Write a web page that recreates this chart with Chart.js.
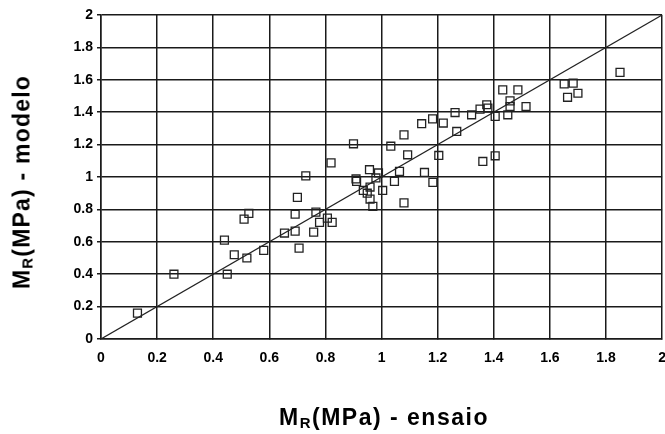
<!DOCTYPE html>
<html>
<head>
<meta charset="utf-8">
<script src="https://cdn.jsdelivr.net/npm/chart.js@4"></script>
<style>
    html, body { margin: 0; padding: 0; background: #fff; overflow: hidden; }
    #wrap { position: relative; width: 665px; height: 434px; overflow: hidden; }
    .axis-title {
        position: absolute;
        font-family: 'Liberation Sans', Arial, sans-serif;
        font-weight: bold;
        color: #000;
        white-space: nowrap;
    }
    .axis-title sub { font-size: 0.65em; vertical-align: -0.2em; line-height: 0; }
    #titleX { left: 384px; top: 404px; font-size: 23px; letter-spacing: 1.5px; transform: translateX(-50%); }
    #titleY { left: 22px; top: 182px; font-size: 23px; letter-spacing: 1.2px; transform: translate(-50%, -50%) rotate(-90deg); }
</style>
</head>
<body>
<div id="wrap">
    <canvas id="chartMR" width="669" height="434"></canvas>
    <div class="axis-title" id="titleX">M<sub>R</sub>(MPa) - ensaio</div>
    <div class="axis-title" id="titleY">M<sub>R</sub>(MPa) - modelo</div>
</div>
<script>
// valores (ensaio x modelo)
const xEnsaio = [0.13, 0.26, 0.44, 0.45, 0.475, 0.51, 0.52, 0.527, 0.58, 0.654, 0.692, 0.692, 0.70, 0.706, 0.73,
    0.758, 0.766, 0.779, 0.807, 0.82, 0.824, 0.90, 0.909, 0.911, 0.935, 0.949, 0.957, 0.959, 0.959, 0.969,
    0.98, 0.989, 1.004, 1.033, 1.046, 1.064, 1.08, 1.08, 1.093, 1.143, 1.153, 1.182, 1.183, 1.204, 1.22,
    1.262, 1.268, 1.321, 1.351, 1.361, 1.375, 1.379, 1.405, 1.405, 1.432, 1.45, 1.458, 1.458, 1.486, 1.515,
    1.651, 1.663, 1.683, 1.70, 1.85];
const yModelo = [0.16, 0.40, 0.61, 0.40, 0.52, 0.74, 0.50, 0.775, 0.547, 0.654, 0.666, 0.77, 0.874, 0.561, 1.007,
    0.66, 0.783, 0.72, 0.746, 1.087, 0.72, 1.205, 0.988, 0.973, 0.917, 0.90, 1.045, 0.938, 0.864, 0.819,
    0.994, 1.025, 0.917, 1.19, 0.973, 1.035, 0.84, 1.26, 1.137, 1.329, 1.028, 1.359, 0.967, 1.133, 1.333,
    1.398, 1.281, 1.384, 1.419, 1.096, 1.446, 1.425, 1.131, 1.374, 1.538, 1.384, 1.47, 1.435, 1.538, 1.435,
    1.575, 1.492, 1.579, 1.517, 1.646];

// linha 1:1
const linhaIgualdade = [0, 2];

const xTickLabels = ['0', '0.2', '0.4', '0.6', '0.8', '1', '1.2', '1.4', '1.6', '1.8', '2'];
const yTickLabels = ['0', '0.2', '0.4', '0.6', '0.8', '1', '1.2', '1.4', '1.6', '1.8', '2'];

const tickFont = { family: "'Liberation Sans', Arial, sans-serif", size: 14, weight: 'bold' };
const gridCor = '#1a1a1a';

new Chart(document.getElementById('chartMR'), {
    type: 'scatter',
    data: {
        datasets: [{
            label: 'Pontos',
            data: xEnsaio.map((x, i) => ({ x: x, y: yModelo[i] })),
            pointStyle: 'rect',
            pointRadius: 5.6,
            pointBorderWidth: 1.3,
            borderColor: '#222',
            backgroundColor: 'rgba(0,0,0,0)',
            showLine: false
        }, {
            label: '1:1',
            data: linhaIgualdade.map(v => ({ x: v, y: v })),
            showLine: true,
            borderColor: '#222',
            borderWidth: 1.2,
            pointRadius: 0
        }]
    },
    options: {
        responsive: false,
        animation: false,
        devicePixelRatio: 1,
        layout: { padding: { left: 0, right: 0, top: 15, bottom: 0 } },
        plugins: {
            legend: { display: false },
            tooltip: { enabled: false }
        },
        scales: {
            x: {
                type: 'linear',
                min: 0,
                max: 2,
                afterFit: s => {
                    s.height = 95;
                    s.paddingLeft = 0;
                    s.paddingRight = 0;
                },
                border: { color: gridCor, width: 1.5 },
                grid: { color: gridCor, lineWidth: 1.5, tickLength: 0 },
                ticks: {
                    stepSize: 0.2,
                    padding: 11,
                    color: '#000',
                    font: tickFont,
                    maxRotation: 0,
                    callback: (v, i) => xTickLabels[i]
                }
            },
            y: {
                type: 'linear',
                min: 0,
                max: 2,
                afterFit: s => { s.width = 101; },
                border: { color: gridCor, width: 1.5 },
                grid: { color: gridCor, lineWidth: 1.5, tickLength: 4 },
                ticks: {
                    stepSize: 0.2,
                    padding: 4,
                    color: '#000',
                    font: tickFont,
                    callback: (v, i) => yTickLabels[i]
                }
            }
        }
    }
});
</script>
</body>
</html>
